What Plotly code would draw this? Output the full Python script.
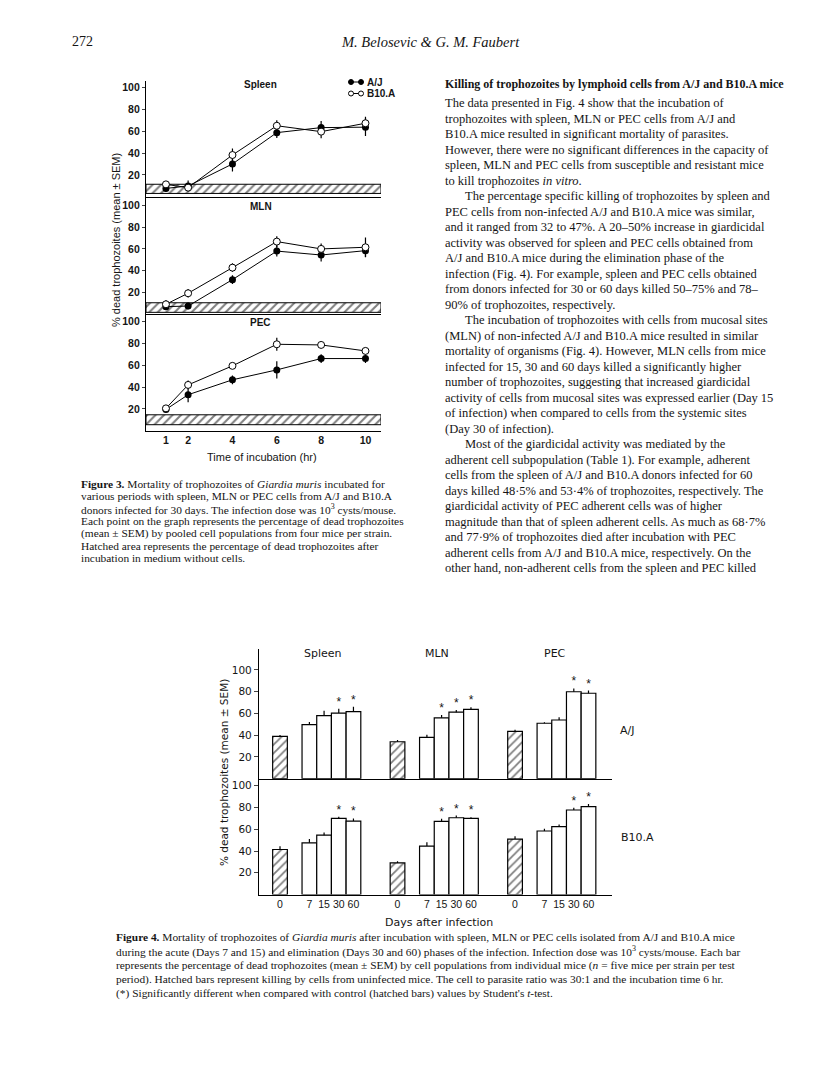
import plotly.graph_objects as go

# page is 816x1079; the html body keeps an 8px margin, so the figure itself is 800x1063
PAGE_W, PAGE_H, M = 816, 1079, 8
W, H = PAGE_W - 2 * M, PAGE_H - 2 * M

# ---- Figure 3 data (time course, % dead trophozoites) ----
horas = [1, 2, 4, 6, 8, 10]
paineis3 = ['Spleen', 'MLN', 'PEC']
aj_spleen = [7.6, 9.8, 30, 58.7, 63.3, 63.7]
aj_spleen_sem = [3, 5, 7, 5, 6, 8]
b10_spleen = [11.3, 8.3, 38.2, 65, 59.6, 67.3]
b10_spleen_sem = [3, 3, 6, 5, 6, 6]
aj_mln = [7, 7.6, 31.8, 58, 54.4, 58.4]
aj_mln_sem = [3, 3, 4, 5, 6, 6]
b10_mln = [9.2, 19.3, 42.8, 66.7, 60, 61.5]
b10_mln_sem = [4, 4, 4, 5, 5, 9]
aj_pec = [19.5, 33, 46.7, 55.8, 66.2, 66.2]
aj_pec_sem = [2, 7, 4, 8, 4, 4]
b10_pec = [20.5, 42, 59.5, 79.3, 78.7, 73.2]
b10_pec_sem = [2, 4, 3, 6, 3, 3]
faixa_baixo = [3, 1.8, 5.5]    # hatched area: medium without cells
faixa_alto = [11.4, 10.6, 14.6]

# ---- Figure 4 data (bars) ----
dias = ['0', '7', '15', '30', '60']
orgaos = ['Spleen', 'MLN', 'PEC']
aj_bar = {'Spleen': [39, 49.7, 58, 60.4, 61.7],
          'MLN': [34, 38, 56, 61.2, 63.8],
          'PEC': [43.6, 51, 54, 80, 78.6]}
aj_bar_sem = {'Spleen': [1.2, 2.5, 4.5, 4, 4.5],
              'MLN': [1.5, 2.5, 2.5, 2, 2],
              'PEC': [1.5, 1, 2.5, 3, 2.5]}
b10_bar = {'Spleen': [41.4, 47.5, 54.6, 70, 67.5],
           'MLN': [29, 44.5, 67.2, 70.6, 70],
           'PEC': [51, 58.4, 62.4, 77.7, 80.8]}
b10_bar_sem = {'Spleen': [3, 3.5, 2.5, 1.5, 2.5],
               'MLN': [1.5, 3.5, 2.5, 2, 1],
               'PEC': [2.5, 2, 2, 2, 2.5]}
signif = {'Spleen': ['30', '60'], 'MLN': ['15', '30', '60'], 'PEC': ['30', '60']}

INK = '#151515'


def px(x):
    return (x - M) / W


def py(y):
    return 1 - (y - M) / H


def txt(s, x, y, size=12, xanchor='left', family='Liberation Serif', angle=0, weight='normal'):
    return dict(text=s, x=px(x), y=py(y), xref='paper', yref='paper', showarrow=False,
                xanchor=xanchor, yanchor='middle', textangle=angle,
                font=dict(family=family, size=size, color=INK, weight=weight))


fig = go.Figure()

# ---------------- Figure 3 ----------------
series3 = [(aj_spleen, aj_spleen_sem, b10_spleen, b10_spleen_sem),
           (aj_mln, aj_mln_sem, b10_mln, b10_mln_sem),
           (aj_pec, aj_pec_sem, b10_pec, b10_pec_sem)]
x0, x1 = 0.1, 10.7
for i, (aj, ajs, b10, b10s) in enumerate(series3):
    sx = '' if i == 0 else str(i + 1)
    xa, ya = 'x' + sx, 'y' + sx
    lo, hi = faixa_baixo[i], faixa_alto[i]
    fig.add_trace(go.Scatter(
        x=[x0, x1, x1, x0, x0], y=[lo, lo, hi, hi, lo], mode='lines', fill='toself',
        fillcolor='white',
        fillpattern=dict(shape='/', fgcolor='black', bgcolor='white', size=6, solidity=0.35),
        line=dict(color='black', width=1), xaxis=xa, yaxis=ya, showlegend=False, hoverinfo='skip'))
    fig.add_trace(go.Scatter(
        x=horas, y=aj, mode='lines+markers', xaxis=xa, yaxis=ya, showlegend=False,
        line=dict(color='black', width=1),
        marker=dict(color='black', size=7),
        error_y=dict(type='data', array=ajs, color='black', thickness=1.2, width=0)))
    fig.add_trace(go.Scatter(
        x=horas, y=b10, mode='lines+markers', xaxis=xa, yaxis=ya, showlegend=False,
        line=dict(color='black', width=1),
        marker=dict(color='white', size=7, line=dict(color='black', width=1)),
        error_y=dict(type='data', array=b10s, color='black', thickness=1.2, width=0)))

dom3 = [(81, 196.7, 106), (196.7, 314.3, 107.9), (314.3, 430.7, 106.8)]
eixo3 = dict(showgrid=False, zeroline=False, showline=True, linecolor='black', linewidth=1.2)
tick3 = dict(family='Liberation Sans', size=10.5, color=INK, weight='bold')
for i, (top, bot, rmax) in enumerate(dom3):
    sx = '' if i == 0 else str(i + 1)
    fig.update_layout({
        'xaxis' + sx: dict(eixo3, domain=[px(146), px(381)], range=[x0, x1], anchor='y' + sx,
                           tickvals=horas, showticklabels=(i == 2), tickangle=0,
                           ticks='', tickfont=tick3),
        'yaxis' + sx: dict(eixo3, domain=[py(bot), py(top)], range=[0, rmax], anchor='x' + sx,
                           tickvals=[20, 40, 60, 80, 100], ticks='outside', ticklen=3,
                           tickfont=tick3),
    })

# ---------------- Figure 4 ----------------
slot = [0, 2, 3, 4, 5]
pos, lbl = [], []
for g, org in enumerate(orgaos):
    for k, d in enumerate(dias):
        pos.append(g * 8 + slot[k])
        lbl.append(d)

for j, (vals, sems) in enumerate([(aj_bar, aj_bar_sem), (b10_bar, b10_bar_sem)]):
    xa, ya = 'x' + str(4 + j), 'y' + str(4 + j)
    cx, cy, cs, bx, by, bs, ax_, ay_ = [], [], [], [], [], [], [], []
    for g, org in enumerate(orgaos):
        for k, d in enumerate(dias):
            p = g * 8 + slot[k]
            if k == 0:
                cx.append(p); cy.append(vals[org][k]); cs.append(sems[org][k])
            else:
                bx.append(p); by.append(vals[org][k]); bs.append(sems[org][k])
            if d in signif[org]:
                ax_.append(p); ay_.append(vals[org][k] + sems[org][k])
    fig.add_trace(go.Bar(
        x=cx, y=cy, width=1, xaxis=xa, yaxis=ya, showlegend=False,
        marker=dict(color='white', line=dict(color='black', width=1.2),
                    pattern=dict(shape='/', fgcolor='black', bgcolor='white', size=6, solidity=0.3)),
        error_y=dict(type='data', array=cs, arrayminus=[0] * len(cs), symmetric=False,
                     color='black', thickness=1.2, width=0)))
    fig.add_trace(go.Bar(
        x=bx, y=by, width=1, xaxis=xa, yaxis=ya, showlegend=False,
        marker=dict(color='white', line=dict(color='black', width=1.2)),
        error_y=dict(type='data', array=bs, arrayminus=[0] * len(bs), symmetric=False,
                     color='black', thickness=1.2, width=0)))
    fig.add_trace(go.Scatter(
        x=ax_, y=ay_, mode='text', text=['*'] * len(ax_), textposition='top center',
        textfont=dict(family='Liberation Sans', size=12, color=INK),
        xaxis=xa, yaxis=ya, showlegend=False, hoverinfo='skip'))

eixo4 = dict(showgrid=False, zeroline=False, showline=True, linecolor='black', linewidth=1.2)
tick4 = dict(family='DejaVu Sans', size=10.5, color=INK)
tickx4 = dict(family='Liberation Sans', size=10.5, color=INK)
fig.update_layout(
    xaxis4=dict(eixo4, domain=[px(259), px(611.7)], range=[-1.43, 22.58], anchor='y4',
                showticklabels=False, ticks=''),
    yaxis4=dict(eixo4, domain=[py(778.7), py(649)], range=[0, 119.3], anchor='x4',
                tickvals=[20, 40, 60, 80, 100], ticks='outside', ticklen=4, tickfont=tick4),
    xaxis5=dict(eixo4, domain=[px(259), px(611.7)], range=[-1.43, 22.58], anchor='y5',
                tickvals=pos, ticktext=lbl, ticks='', tickangle=0, tickfont=tickx4),
    yaxis5=dict(eixo4, domain=[py(894.5), py(778.7)], range=[0, 106.5], anchor='x5',
                tickvals=[20, 40, 60, 80, 100], ticks='outside', ticklen=4, tickfont=tick4),
    barmode='overlay',
)

# ---------------- legend of figure 3 (drawn) ----------------
shapes = []
for yy, cor in [(82, 'black'), (93.5, 'white')]:
    shapes.append(dict(type='line', xref='paper', yref='paper', x0=px(351), x1=px(361),
                       y0=py(yy), y1=py(yy), line=dict(color='black', width=1)))
    for cxp in (351, 361):
        shapes.append(dict(type='circle', xref='paper', yref='paper',
                           x0=px(cxp - 2.5), x1=px(cxp + 2.5), y0=py(yy + 2.5), y1=py(yy - 2.5),
                           fillcolor=cor, line=dict(color='black', width=1)))

# ---------------- texts ----------------
ann = []
ann.append(txt('272', 70, 42, size=14))
ann.append(txt('<i>M. Belosevic & G. M. Faubert</i>', 430, 42, size=14.5, xanchor='center'))

# figure 3 labels
for nome, xx, yy in [('Spleen', 260, 85), ('MLN', 261, 206), ('PEC', 261, 322)]:
    ann.append(txt(nome, xx, yy, size=10, xanchor='center', family='Liberation Sans', weight='bold'))
ann.append(txt('A/J', 365, 82, size=10, family='Liberation Sans', weight='bold'))
ann.append(txt('B10.A', 365, 93.5, size=10, family='Liberation Sans', weight='bold'))
ann.append(txt('% dead trophozoites (mean ± SEM)', 116, 240, size=11, xanchor='center',
               family='Liberation Sans', angle=-90))
ann.append(txt('Time of incubation (hr)', 262, 456.5, size=11, xanchor='center',
               family='Liberation Sans'))

cap3 = ['<b>Figure 3.</b> Mortality of trophozoites of <i>Giardia muris</i> incubated for',
        'various periods with spleen, MLN or PEC cells from A/J and B10.A',
        'donors infected for 30 days. The infection dose was 10<sup>3</sup> cysts/mouse.',
        'Each point on the graph represents the percentage of dead trophozoites',
        '(mean ± SEM) by pooled cell populations from four mice per strain.',
        'Hatched area represents the percentage of dead trophozoites after',
        'incubation in medium without cells.']
for i, s in enumerate(cap3):
    ann.append(txt(s, 79, 484 + 12.3 * i, size=11.4))

# right column body
ann.append(txt('<b>Killing of trophozoites by lymphoid cells from A/J and B10.A mice</b>', 443, 84, size=12))
corpo = [
    'The data presented in Fig. 4 show that the incubation of',
    'trophozoites with spleen, MLN or PEC cells from A/J and',
    'B10.A mice resulted in significant mortality of parasites.',
    'However, there were no significant differences in the capacity of',
    'spleen, MLN and PEC cells from susceptible and resistant mice',
    'to kill trophozoites <i>in vitro</i>.',
    '>The percentage specific killing of trophozoites by spleen and',
    'PEC cells from non-infected A/J and B10.A mice was similar,',
    'and it ranged from 32 to 47%. A 20–50% increase in giardicidal',
    'activity was observed for spleen and PEC cells obtained from',
    'A/J and B10.A mice during the elimination phase of the',
    'infection (Fig. 4). For example, spleen and PEC cells obtained',
    'from donors infected for 30 or 60 days killed 50–75% and 78–',
    '90% of trophozoites, respectively.',
    '>The incubation of trophozoites with cells from mucosal sites',
    '(MLN) of non-infected A/J and B10.A mice resulted in similar',
    'mortality of organisms (Fig. 4). However, MLN cells from mice',
    'infected for 15, 30 and 60 days killed a significantly higher',
    'number of trophozoites, suggesting that increased giardicidal',
    'activity of cells from mucosal sites was expressed earlier (Day 15',
    'of infection) when compared to cells from the systemic sites',
    '(Day 30 of infection).',
    '>Most of the giardicidal activity was mediated by the',
    'adherent cell subpopulation (Table 1). For example, adherent',
    'cells from the spleen of A/J and B10.A donors infected for 60',
    'days killed 48·5% and 53·4% of trophozoites, respectively. The',
    'giardicidal activity of PEC adherent cells was of higher',
    'magnitude than that of spleen adherent cells. As much as 68·7%',
    'and 77·9% of trophozoites died after incubation with PEC',
    'adherent cells from A/J and B10.A mice, respectively. On the',
    'other hand, non-adherent cells from the spleen and PEC killed',
]
for i, s in enumerate(corpo):
    xx = 443
    if s.startswith('>'):
        s = s[1:]
        xx = 463
    ann.append(txt(s, xx, 103.3 + 15.5 * i, size=12.5))

# figure 4 labels
for nome, xx in [('Spleen', 323), ('MLN', 437), ('PEC', 555)]:
    ann.append(txt(nome, xx, 653, size=11, xanchor='center', family='DejaVu Sans'))
ann.append(txt('A/J', 618, 730, size=11, family='DejaVu Sans'))
ann.append(txt('B10.A', 619, 837, size=11, family='DejaVu Sans'))
ann.append(txt('% dead trophozoites (mean ± SEM)', 224, 773, size=10.5, xanchor='center',
               family='DejaVu Sans', angle=-90))
ann.append(txt('Days after infection', 439, 922, size=11, xanchor='center', family='DejaVu Sans'))

cap4 = ['<b>Figure 4.</b> Mortality of trophozoites of <i>Giardia muris</i> after incubation with spleen, MLN or PEC cells isolated from A/J and B10.A mice',
        'during the acute (Days 7 and 15) and elimination (Days 30 and 60) phases of the infection. Infection dose was 10<sup>3</sup> cysts/mouse. Each bar',
        'represents the percentage of dead trophozoites (mean ± SEM) by cell populations from individual mice (<i>n</i> = five mice per strain per test',
        'period). Hatched bars represent killing by cells from uninfected mice. The cell to parasite ratio was 30:1 and the incubation time 6 hr.',
        "(*) Significantly different when compared with control (hatched bars) values by Student's <i>t</i>-test."]
for i, s in enumerate(cap4):
    ann.append(txt(s, 114, 937 + 14 * i, size=11.4))

fig.update_layout(
    width=W, height=H, margin=dict(l=0, r=0, t=0, b=0),
    paper_bgcolor='white', plot_bgcolor='white',
    showlegend=False, annotations=ann, shapes=shapes,
)

fig.write_html("out.html")
